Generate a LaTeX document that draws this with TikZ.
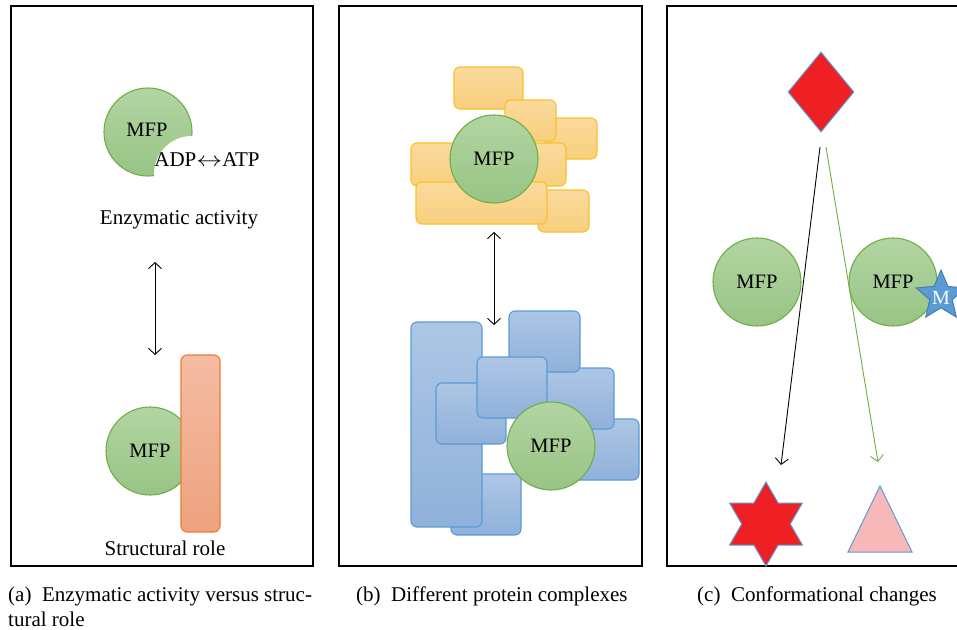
\documentclass[tikz,border=0pt]{standalone}
\usepackage{fontspec}
\setmainfont{Liberation Serif}
\usetikzlibrary{shapes.geometric,arrows.meta}
\definecolor{gfillA}{HTML}{B2D5A2}
\definecolor{gfillB}{HTML}{98C485}
\definecolor{gline}{HTML}{70AD47}
\definecolor{ofillA}{HTML}{F5BCA4}
\definecolor{ofillB}{HTML}{EEA27F}
\definecolor{oline}{HTML}{ED7D31}
\definecolor{yfillA}{HTML}{FADA9C}
\definecolor{yfillB}{HTML}{F8CF7E}
\definecolor{yline}{HTML}{FBBF2D}
\definecolor{bfillA}{HTML}{ADC6E5}
\definecolor{bfillB}{HTML}{8FB1DA}
\definecolor{bline}{HTML}{5B9BD5}
\definecolor{dred}{HTML}{EE2024}
\definecolor{tpink}{HTML}{F8B8B8}
\begin{document}
\begin{tikzpicture}[x=1pt,y=-1pt,
  frame/.style={draw=black,line width=1.1pt},
  mfp/.style={circle,minimum size=88pt,inner sep=0pt,draw=gline,line width=1.1pt,top color=gfillA,bottom color=gfillB,font=\fontsize{20.5}{24}\selectfont},
  ybox/.style={draw=yline,line width=1.1pt,rounded corners=6pt,top color=yfillA,bottom color=yfillB},
  bbox/.style={draw=bline,line width=1.1pt,rounded corners=6pt,top color=bfillA,bottom color=bfillB},
  lbl/.style={font=\fontsize{21}{25}\selectfont,inner sep=0pt},
  captext/.style={font=\fontsize{21}{25}\selectfont,inner sep=0pt,anchor=base west},
  dblarrow/.style={{Straight Barb[length=6pt,width=13pt]}-{Straight Barb[length=6pt,width=13pt]},line width=0.9pt},
  sglarrow/.style={-{Straight Barb[length=6pt,width=13pt]},line width=0.9pt}
]
\useasboundingbox (0,0) rectangle (957,629);
% frames
\draw[frame] (11,6) rectangle (313,566);
\draw[frame] (339,6) rectangle (642,566);
\draw[frame] (667,6) rectangle (972,566);

% ---------- panel (a)
\node[mfp] (a1) at (148,132) {};
\fill[white] (192,174) circle (38);
\node[lbl,font=\fontsize{20.5}{24}\selectfont] (a1t) at (147,130) {MFP};
\node[lbl] (adp) at (207,160) {ADP\raisebox{0.5pt}{\scalebox{1.25}[1]{$\leftrightarrow$}}ATP};
\node[lbl] (enz) at (179,220) {Enzymatic activity};
\coordinate (aup) at (155,262);
\coordinate (adn) at (155,355);
\draw[dblarrow] (aup) -- (adn);
\node[mfp] (a2) at (150,451) {MFP};
\draw[draw=oline,line width=1.1pt,rounded corners=6pt,top color=ofillA,bottom color=ofillB] (181,355) rectangle (220,532);
\node[lbl] (struct) at (165,548) {Structural role};

% ---------- panel (b)
\draw[ybox] (454,67) rectangle (523,109);
\draw[ybox] (545,118) rectangle (597,159);
\draw[ybox] (505,100) rectangle (556,141);
\draw[ybox] (538,190) rectangle (589,232);
\draw[ybox] (411,143) rectangle (566,186);
\draw[ybox] (416,182) rectangle (547,224);
\node[mfp] (b1) at (494,159) {MFP};
\coordinate (bup) at (494,232);
\coordinate (bdn) at (494,325);
\draw[dblarrow] (bup) -- (bdn);
\draw[bbox] (451,474) rectangle (521,535);
\draw[bbox] (411,322) rectangle (482,527);
\draw[bbox] (436,383) rectangle (506,444);
\draw[bbox] (545,419) rectangle (639,480);
\draw[bbox] (520,368) rectangle (614,429);
\draw[bbox] (509,311) rectangle (580,372);
\draw[bbox] (477,357) rectangle (547,418);
\node[mfp] (b2) at (551,446) {MFP};

% ---------- panel (c)
\node[diamond,draw=bline,fill=dred,line width=1pt,minimum width=66pt,minimum height=80pt,inner sep=0pt] (dia) at (821,92) {};
\node[mfp] (c1) at (757,282) {MFP};
\node[mfp] (c2) at (893,282) {MFP};
\node[star,star points=5,star point ratio=2.2,minimum size=52pt,inner sep=0pt,draw=bline!80!black,fill=bline,line width=1pt] (mst) at (941,296) {};
\node[text=white,font=\fontsize{20}{22}\selectfont,inner sep=0pt] (mlet) at (941,298) {M};
\coordinate (k1) at (820,147);
\coordinate (k2) at (781,465);
\coordinate (g1) at (826,147);
\coordinate (g2) at (878,462);
\draw[sglarrow] (k1) -- (k2);
\draw[sglarrow,draw=gline] (g1) -- (g2);
\node[star,star points=6,star point ratio=1.732,minimum size=84pt,inner sep=0pt,draw=bline,fill=dred,line width=1pt] (hex) at (766,524) {};
\draw[draw=bline,fill=tpink,line width=1pt] (880,486) -- (912,552) -- (848,552) -- cycle;

% ---------- captions
\node[captext] (capa) at (8,601) {(a)\ \ Enzymatic activity versus struc-};
\node[captext] (capa2) at (8,626) {tural role};
\node[captext] (capb) at (356,601) {(b)\ \ Different protein complexes};
\node[captext] (capc) at (697,601) {(c)\ \ Conformational changes};
\end{tikzpicture}
\end{document}
